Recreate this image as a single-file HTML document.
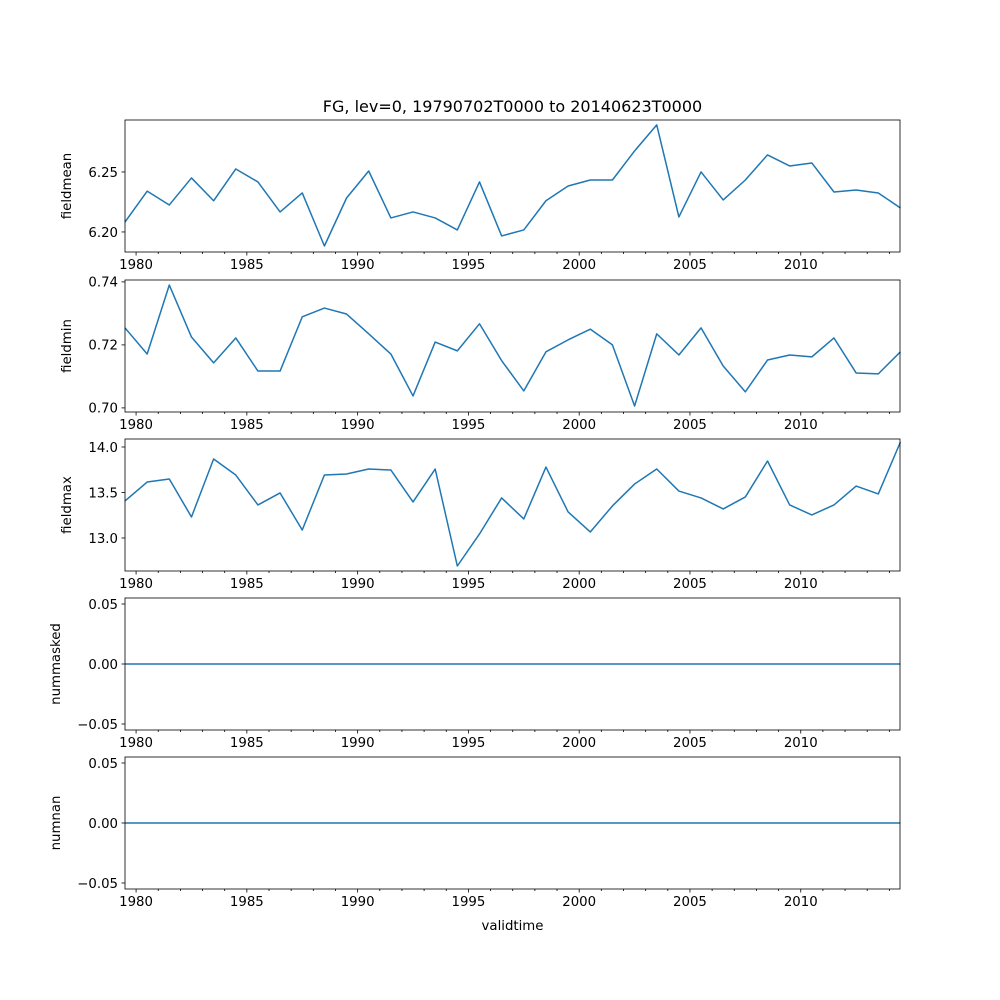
<!DOCTYPE html>
<html><head><meta charset="utf-8"><style>
html,body{margin:0;padding:0;background:#fff}
svg{display:block;font-family:"DejaVu Sans","Liberation Sans",sans-serif}
</style></head><body>
<svg id="c" width="1000" height="1000" viewBox="0 0 1000 1000"></svg>
<script>
const years = [];
for (let y = 1979; y <= 2014; y++) years.push(y);
const xTickLabels = ["1980","1985","1990","1995","2000","2005","2010"];
const fieldmean = [6.2083,6.234,6.2225,6.245,6.226,6.2525,6.2417,6.2167,6.2325,6.1883,6.2283,6.2508,6.2117,6.2167,6.2117,6.2017,6.2417,6.1967,6.2017,6.226,6.2383,6.2433,6.2433,6.2675,6.2892,6.2125,6.25,6.2267,6.2433,6.2642,6.255,6.2575,6.2333,6.235,6.2325,6.22];
const fieldmin = [0.7254,0.7171,0.739,0.7225,0.7143,0.7222,0.7117,0.7117,0.7289,0.7317,0.7298,0.7235,0.7171,0.7038,0.7209,0.7181,0.7267,0.715,0.7054,0.7178,0.7216,0.725,0.72,0.7006,0.7235,0.7168,0.7254,0.7133,0.7051,0.7152,0.7168,0.7162,0.7222,0.7111,0.7108,0.7178];
const fieldmax = [13.407,13.615,13.648,13.231,13.868,13.692,13.363,13.495,13.088,13.692,13.703,13.758,13.747,13.396,13.758,12.692,13.044,13.44,13.209,13.78,13.286,13.066,13.352,13.593,13.758,13.516,13.44,13.319,13.451,13.846,13.363,13.253,13.363,13.571,13.484,14.055];
const nummasked = years.map(()=>0);
const numnan = years.map(()=>0);
const panelNames = ["fieldmean","fieldmin","fieldmax","nummasked","numnan"];
const panelSeries = [fieldmean,fieldmin,fieldmax,nummasked,numnan];
const panelYTicks = [["6.20","6.25"],["0.70","0.72","0.74"],["13.0","13.5","14.0"],["-0.05","0.00","0.05"],["-0.05","0.00","0.05"]];
const panelYDomain = [[6.1833,6.2933],[0.6987,0.7406],[12.637,14.088],[-0.055,0.055],[-0.055,0.055]];

const svg = document.getElementById('c');
const NS = 'http://www.w3.org/2000/svg';
function mk(tag, attrs, parent){const e=document.createElementNS(NS,tag);for(const k in attrs)e.setAttribute(k,attrs[k]);(parent||svg).appendChild(e);return e;}
const L=125,R=900;
const tops=[120,280,439,598,757], H=132;
const x0=1979.5, x1=2014.48;
const xs = v => L + (v - x0)/(x1-x0)*(R-L);
const ylabelX=[71,71,71,60,60];

panelSeries.forEach((data,p)=>{
  const T=tops[p], B=T+H;
  const [d0,d1]=panelYDomain[p];
  const ys = v => B - (v-d0)/(d1-d0)*H;
  const g = mk('g',{});
  
  
  // line
  const pts = data.map((v,i)=>xs(years[i]+0.5).toFixed(2)+','+ys(v).toFixed(2)).join(' ');
  const line = mk('polyline',{points:pts,fill:'none',stroke:'#1f77b4','stroke-width':1.5,'stroke-linejoin':'round'},g);
  
  
  // clip-rectangle frame
  const fr = mk('rect',{x:L,y:T,width:R-L,height:H,fill:'none',stroke:'#000','stroke-width':0.8},g);
  
  
  // x ticks
  for(let y=1980;y<=2014;y++){
    const x=xs(y); const major=(y%5===0);
    mk('line',{x1:x,x2:x,y1:B,y2:B+(major?3.5:2),stroke:'#000','stroke-width':0.8},g);
  }
  xTickLabels.forEach(lbl=>{
    const t = mk('text',{x:xs(+lbl),y:B+17,'text-anchor':'middle','font-size':13.3,fill:'#000'},g);
    t.textContent=lbl;
    
    
  });
  // y ticks
  panelYTicks[p].forEach(lbl=>{
    const y=ys(+lbl);
    mk('line',{x1:L-3.5,x2:L,y1:y,y2:y,stroke:'#000','stroke-width':0.8},g);
    const t=mk('text',{x:L-7,y:y+4.8,'text-anchor':'end','font-size':13.3,fill:'#000'},g);
    t.textContent=lbl.replace('-','\u2212');
    
    
  });
  const yl=mk('text',{x:ylabelX[p],y:T+H/2,'text-anchor':'middle','font-size':13.3,transform:`rotate(-90 ${ylabelX[p]} ${T+H/2})`},g);
  yl.textContent=panelNames[p];
  
  
});
const title=mk('text',{x:512.5,y:112,'text-anchor':'middle','font-size':16}); title.textContent='FG, lev=0, 19790702T0000 to 20140623T0000';


const xt=mk('text',{x:512.5,y:930,'text-anchor':'middle','font-size':13.3}); xt.textContent='validtime';


</script>
</body></html>
